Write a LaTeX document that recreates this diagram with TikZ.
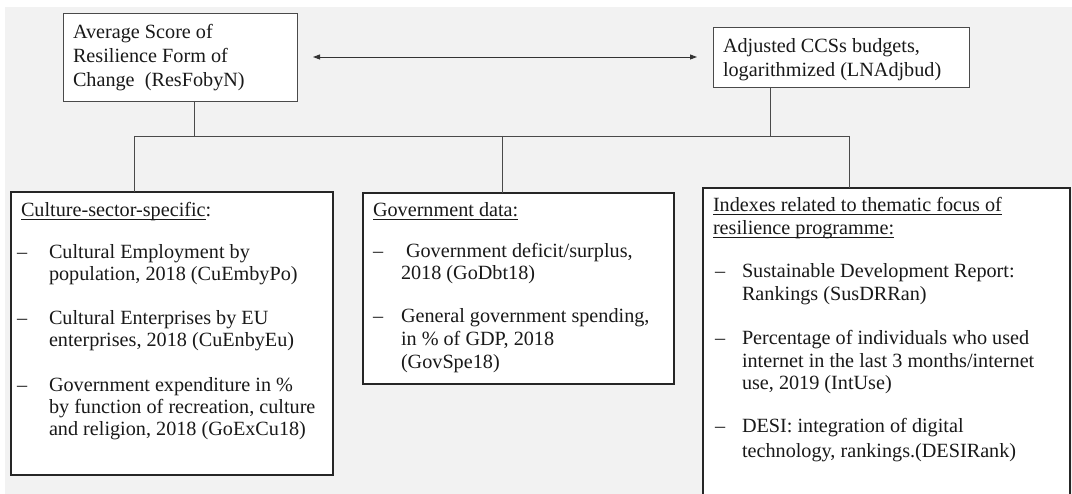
\documentclass[tikz,border=0pt]{standalone}
\usepackage{fontspec}
\setmainfont{Liberation Serif}
\newcommand{\myul}[1]{\setbox0\hbox{#1}\rlap{\rule[-3.4pt]{\wd0}{1.1pt}}\box0}
\usetikzlibrary{arrows.meta}
\definecolor{bg}{HTML}{F2F2F2}
\definecolor{ln}{HTML}{4A4A4A}
\begin{document}
\begin{tikzpicture}[x=1pt,y=-1pt,
  every node/.style={inner sep=0pt,outer sep=0pt},
  topbox/.style={draw=ln,line width=0.9pt,fill=white,anchor=north west},
  lowbox/.style={draw=black!85,line width=1.4pt,fill=white,anchor=north west},
  txt/.style={anchor=base west,font=\fontsize{20.2}{23}\selectfont,text=black!90},
  conn/.style={draw=ln,line width=0.9pt},
  twoway/.style={conn,draw=black!80,{Triangle[length=7pt,width=5pt]}-{Triangle[length=7pt,width=5pt]}}]
\useasboundingbox (0,0) rectangle (1072,494);
\fill[bg] (5,7) rectangle (1072,494);
% boxes
\node[topbox,minimum width=234pt,minimum height=88pt] (b1) at (63,13) {};
\node[topbox,minimum width=256pt,minimum height=60pt] (b2) at (713,27) {};
\node[lowbox,minimum width=322pt,minimum height=283pt] (b3) at (11,192) {};
\node[lowbox,minimum width=311pt,minimum height=191pt] (b4) at (363,193) {};
\begin{scope}
\clip (0,0) rectangle (1072,494);
\node[lowbox,minimum width=367pt,minimum height=320pt] (b5) at (703,188) {};
\end{scope}
% texts box 1
\node[txt] (t11) at (73,39) {Average Score of};
\node[txt] (t12) at (73,63) {Resilience Form of};
\node[txt] (t13) at (73,87) {Change\ \ (ResFobyN)};
% box 2
\node[txt] (t21) at (723,53) {Adjusted CCSs budgets,};
\node[txt] (t22) at (723,77) {logarithmized (LNAdjbud)};
% box 3
\node[txt] (h3) at (21,217) {\myul{Culture-sector-specific}:};
\node[txt] (d31) at (17,259) {–};
\node[txt] at (49,259) {Cultural Employment by};
\node[txt] at (49,281) {population, 2018 (CuEmbyPo)};
\node[txt] (d32) at (17,325) {–};
\node[txt] at (49,325) {Cultural Enterprises by EU};
\node[txt] at (49,347) {enterprises, 2018 (CuEnbyEu)};
\node[txt] (d33) at (17,392) {–};
\node[txt] at (49,392) {Government expenditure in \%};
\node[txt] at (49,414) {by function of recreation, culture};
\node[txt] at (49,436) {and religion, 2018 (GoExCu18)};
% box 4
\node[txt] (h4) at (373,217) {\myul{Government data:}};
\node[txt] (d41) at (373,258) {–};
\node[txt] at (406,258) {Government deficit/surplus,};
\node[txt] at (401,280) {2018 (GoDbt18)};
\node[txt] (d42) at (373,323) {–};
\node[txt] at (401,323) {General government spending,};
\node[txt] at (401,346) {in \% of GDP, 2018};
\node[txt] at (401,369) {(GovSpe18)};
% box 5
\node[txt] (h5a) at (713,212) {\myul{Indexes related to thematic focus of}};
\node[txt] (h5b) at (713,235) {\myul{resilience programme:}};
\node[txt] (d51) at (715,278) {–};
\node[txt] at (742,278) {Sustainable Development Report:};
\node[txt] at (742,301) {Rankings (SusDRRan)};
\node[txt] (d52) at (715,345) {–};
\node[txt] at (742,345) {Percentage of individuals who used};
\node[txt] at (742,368) {internet in the last 3 months/internet};
\node[txt] at (742,390) {use, 2019 (IntUse)};
\node[txt] (d53) at (715,433) {–};
\node[txt] at (742,433) {DESI: integration of digital};
\node[txt] at (742,457) {technology, rankings.(DESIRank)};
% connectors
\coordinate (al) at (313,57);
\coordinate (ar) at (697,57);
\draw[twoway] (al) -- (ar);
\coordinate (j1) at (194,136);
\coordinate (j2) at (770,136);
\coordinate (jl) at (134,136);
\coordinate (jm) at (502,136);
\coordinate (jr) at (849,136);
\draw[conn] (b1.south -| j1) -- (j1);
\draw[conn] (b2.south -| j2) -- (j2);
\draw[conn] (jl) -- (jr);
\draw[conn] (jl) -- (b3.north -| jl);
\draw[conn] (jm) -- (b4.north -| jm);
\draw[conn] (jr) -- (b5.north -| jr);
\end{tikzpicture}
\end{document}
